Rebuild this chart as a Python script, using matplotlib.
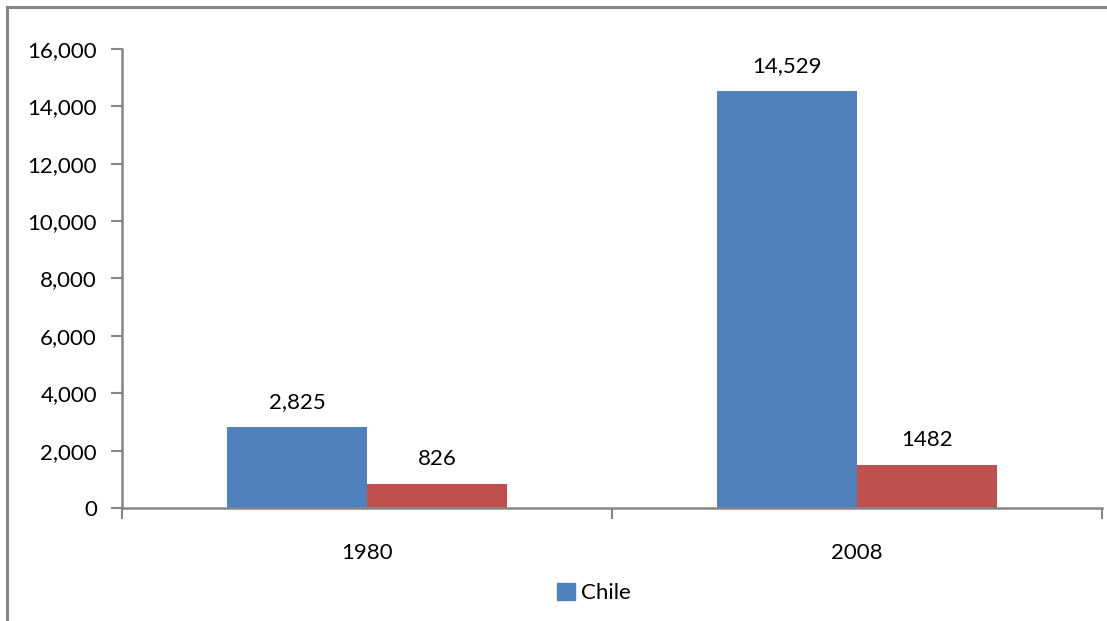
import matplotlib
matplotlib.use("Agg")
import matplotlib.pyplot as plt
from matplotlib.patches import Rectangle, Patch
from matplotlib.ticker import FuncFormatter
import numpy as np

plt.rcParams["font.family"] = ["Lato", "DejaVu Sans"]

years       = ["1980", "2008"]
chile       = [2825, 14529]
second      = [826, 1482]
chile_lbls  = ["2,825", "14,529"]
second_lbls = ["826", "1482"]

BLUE  = "#4f81bd"
RED   = "#c0504d"
GRAY  = "#868686"
FS    = 16

fig = plt.figure(figsize=(11.07, 6.21), dpi=100)
ax = fig.add_axes([0.1102, 0.1820, 0.8853, 0.7391])

# outer chart frame (cropped at right/bottom like the reference)
fig.patches.append(Rectangle((7 / 1107, -0.05), 1.2, 1 - 7 / 621 + 0.05,
                             transform=fig.transFigure, fill=False,
                             edgecolor=GRAY, linewidth=2.2))

x = np.arange(len(years))
w = 140 / 490
ax.bar(x - w / 2, chile, w, color=BLUE, label="Chile")
ax.bar(x + w / 2, second, w, color=RED)

for xi, v, t in zip(x - w / 2, chile, chile_lbls):
    ax.annotate(t, (xi, v), xytext=(0, 11), textcoords="offset points",
                ha="center", va="bottom", fontsize=FS)
for xi, v, t in zip(x + w / 2, second, second_lbls):
    ax.annotate(t, (xi, v), xytext=(0, 11), textcoords="offset points",
                ha="center", va="bottom", fontsize=FS)

ax.set_xlim(-0.5, 1.5)
ax.set_ylim(0, 16000)
ax.set_yticks(range(0, 16001, 2000))
ax.yaxis.set_major_formatter(FuncFormatter(lambda v, p: f"{int(v):,}"))
ax.set_xticks([-0.5, 0.5, 1.5])
ax.set_xticks(x, minor=True)
ax.set_xticklabels([])
ax.set_xticklabels(years, minor=True)
ax.tick_params(axis="x", which="major", length=8, width=1.5, color=GRAY,
               direction="out")
ax.tick_params(axis="x", which="minor", length=0, pad=25, labelsize=FS)
ax.tick_params(axis="y", length=8, width=1.5, color=GRAY, labelsize=FS, pad=10)

for s in ["top", "right"]:
    ax.spines[s].set_visible(False)
for s in ["left", "bottom"]:
    ax.spines[s].set_color(GRAY)
    ax.spines[s].set_linewidth(1.8)

fig.legend(handles=[Patch(color=BLUE, label="Chile")], loc="center",
           bbox_to_anchor=(594 / 1107, 1 - 593 / 621), frameon=False,
           fontsize=FS, handlelength=0.8, handleheight=0.8, handletextpad=0.3)

fig.savefig("out.png", dpi=100)
